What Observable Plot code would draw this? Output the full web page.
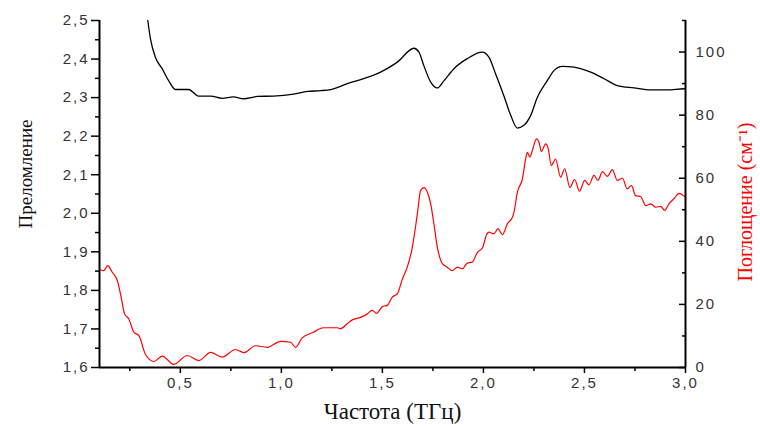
<!DOCTYPE html>
<html><head><meta charset="utf-8">
<script src="https://cdn.jsdelivr.net/npm/d3@7"></script>
<script src="https://cdn.jsdelivr.net/npm/@observablehq/plot@0.6"></script>
<style>
body{margin:0;background:#fff}
#chart{position:absolute;left:0;top:0}
[aria-label$="tick label"]{letter-spacing:2px}
</style>
</head><body><div id="chart"></div>
<script>
// Refraction (left axis, black)
const blackFreq = [0.339,0.352,0.377,0.410,0.442,0.476,0.541,0.590,0.650,0.707,0.763,0.813,0.882,0.961,1.060,1.130,1.194,1.244,1.326,1.407,1.491,1.574,1.656,1.681,1.705,1.739,1.771,1.805,1.854,1.920,1.994,2.027,2.060,2.101,2.135,2.168,2.200,2.234,2.267,2.316,2.349,2.391,2.448,2.531,2.597,2.663,2.745,2.828,2.910,2.993,3.0];
const blackN = [2.5,2.453,2.404,2.375,2.344,2.321,2.321,2.304,2.304,2.298,2.302,2.297,2.303,2.304,2.309,2.316,2.318,2.321,2.336,2.349,2.366,2.392,2.428,2.418,2.383,2.340,2.325,2.344,2.375,2.401,2.418,2.405,2.362,2.305,2.254,2.221,2.228,2.254,2.301,2.344,2.370,2.381,2.379,2.366,2.349,2.331,2.325,2.320,2.320,2.323,2.323];

// Absorption (right axis, red), cm^-1
const redFreq = [0.101,0.121,0.141,0.163,0.191,0.207,0.224,0.245,0.270,0.295,0.328,0.369,0.410,0.468,0.534,0.592,0.650,0.707,0.773,0.814,0.872,0.930,0.996,1.046,1.070,1.103,1.153,1.210,1.277,1.293,1.326,1.351,1.392,1.425,1.450,1.471,1.500,1.524,1.549,1.574,1.599,1.623,1.648,1.673,1.689,1.706,1.722,1.739,1.755,1.772,1.797,1.821,1.846,1.871,1.896,1.920,1.945,1.970,1.995,2.015,2.027,2.052,2.072,2.094,2.118,2.143,2.151,2.168,2.193,2.209,2.217,2.230,2.242,2.263,2.275,2.287,2.308,2.321,2.336,2.357,2.382,2.402,2.428,2.451,2.476,2.501,2.522,2.547,2.567,2.589,2.613,2.638,2.663,2.688,2.712,2.732,2.753,2.778,2.803,2.828,2.853,2.877,2.897,2.918,2.943,2.968,2.985,3.0];
const redAbs = [31.0,30.7,32.3,30.2,27.0,22.3,17.0,15.4,11.2,10.1,4.1,1.9,3.6,1.0,3.8,2.2,4.8,3.3,5.7,4.7,6.9,6.4,8.3,8.0,6.4,9.4,11.0,12.6,12.6,12.3,13.9,15.1,15.9,17.0,18.1,17.2,19.3,19.7,22.3,23.4,28.1,31.8,38.1,48.7,56.1,57.0,55.6,51.9,45.5,38.1,32.9,31.8,30.7,31.8,31.3,33.1,33.4,36.5,37.9,42.0,42.9,42.4,44.0,42.1,45.5,47.6,49.2,55.6,59.8,66.1,68.2,66.7,68.8,72.5,71.4,68.5,70.9,69.3,64.0,66.1,60.3,63.0,57.1,59.6,55.9,59.3,57.9,60.9,59.3,62.1,60.6,62.7,59.3,60.0,56.6,57.7,54.5,54.2,51.3,51.9,50.8,51.1,49.8,51.9,53.5,55.2,54.7,54.0];

// Ticks
const xMajor = [0.5,1.0,1.5,2.0,2.5,3.0];
const xMinor = [0.25,0.75,1.25,1.75,2.25,2.75];
const yLeftMajor = [1.6,1.7,1.8,1.9,2.0,2.1,2.2,2.3,2.4,2.5];
const yLeftMinor = [1.65,1.75,1.85,1.95,2.05,2.15,2.25,2.35,2.45];
const yRightMajor = [0,20,40,60,80,100];
const yRightMinor = [10,30,50,70,90,110];

const xLabel = "Частота (ТГц)";
const yLeftLabel = "Преломление";
const yRightLabel = "Поглощение (см⁻¹)";

const toLeft = d3.scaleLinear().domain([0,110]).range([1.6,2.5]);
const comma = d => d.toFixed(1).replace(".", ",");

const black = blackFreq.map((f,i) => ({f, v: blackN[i]}));
const red = redFreq.map((f,i) => ({f, v: toLeft(redAbs[i])}));
const serif = "Liberation Serif, Times New Roman, serif";

const chart = Plot.plot({
  width: 760, height: 426,
  marginLeft: 99, marginRight: 75, marginTop: 20, marginBottom: 59,
  style: {fontFamily: "Liberation Sans, Arial, sans-serif", fontSize: "14px", color: "#333", background: "#fff"},
  x: {domain: [0.1, 3.0], axis: null},
  y: {domain: [1.6, 2.5], axis: null},
  marks: [
    Plot.line(red, {x: "f", y: "v", stroke: "#ff0000", strokeWidth: 1.2, curve: "monotone-x"}),
    Plot.line(black, {x: "f", y: "v", stroke: "#000", strokeWidth: 1.3, curve: "monotone-x"}),
    Plot.ruleX([0.1, 3.0], {stroke: "#000", strokeWidth: 2}),
    Plot.ruleY([1.6], {stroke: "#000", strokeWidth: 2}),
    Plot.axisX({ticks: xMajor, tickSize: 6, tickPadding: 4, tickFormat: comma, label: null, stroke: "#000", strokeWidth: 1.5, fill: "#333", fontSize: 15}),
    Plot.axisX({ticks: xMinor, tickSize: 4, tickFormat: () => "", label: null, stroke: "#000", strokeWidth: 1.5}),
    Plot.axisY({ticks: yLeftMajor, anchor: "left", tickSize: 8, tickPadding: 2, tickFormat: comma, label: null, stroke: "#000", strokeWidth: 1.5, fill: "#333", fontSize: 15}),
    Plot.axisY({ticks: yLeftMinor, anchor: "left", tickSize: 4, tickFormat: () => "", label: null, stroke: "#000", strokeWidth: 1.5}),
    Plot.axisY({ticks: yRightMajor.map(toLeft), anchor: "right", tickSize: -7, tickPadding: 17, tickFormat: d => String(Math.round(toLeft.invert(d))), label: null, stroke: "#000", strokeWidth: 1.5, fill: "#333", fontSize: 15}),
    Plot.axisY({ticks: yRightMinor.map(toLeft), anchor: "right", tickSize: -4, tickPadding: 10, tickFormat: () => "", label: null, stroke: "#000", strokeWidth: 1.5}),
    Plot.text([xLabel], {text: d => d, frameAnchor: "bottom", lineAnchor: "middle", textAnchor: "middle", dy: 44, fontFamily: serif, fontSize: 23, fill: "#111"}),
    Plot.text([yLeftLabel], {text: d => d, frameAnchor: "left", textAnchor: "middle", lineAnchor: "middle", rotate: -90, dx: -74, dy: -20, fontFamily: serif, fontSize: 19, fill: "#111"}),
    Plot.text([yRightLabel], {text: d => d, frameAnchor: "right", textAnchor: "middle", lineAnchor: "middle", rotate: -90, dx: 60, dy: 8, fontFamily: serif, fontSize: 20, fill: "#ff0000"})
  ]
});
document.getElementById("chart").append(chart);
</script>
</body></html>
